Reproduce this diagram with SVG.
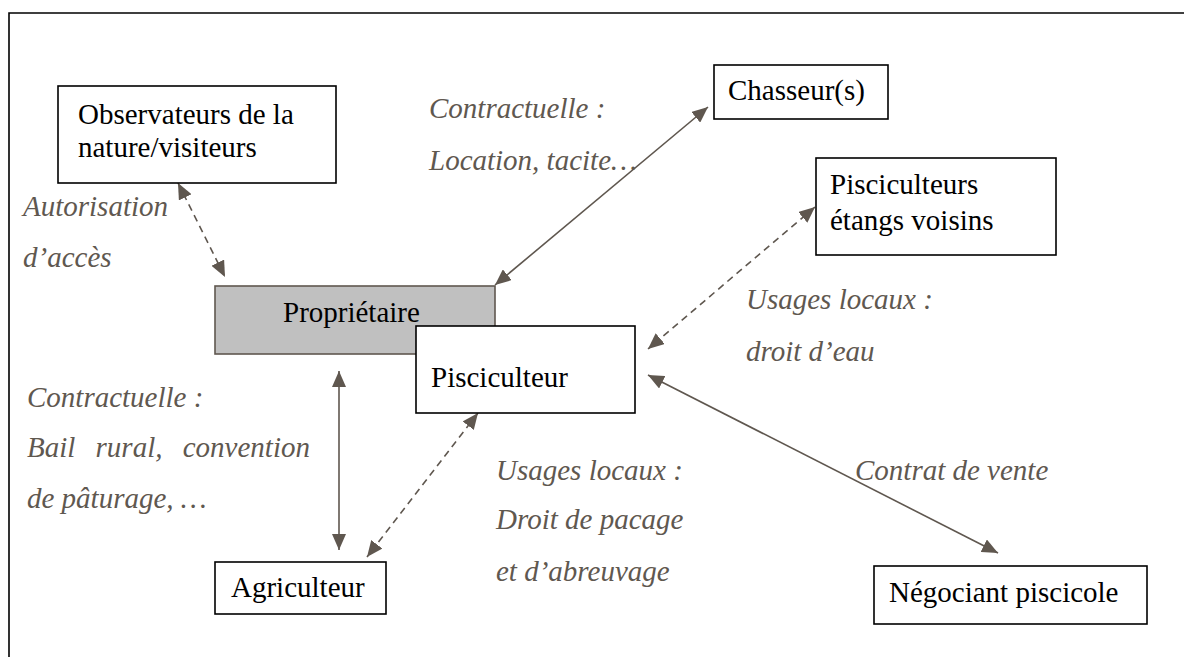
<svg xmlns="http://www.w3.org/2000/svg" width="1184" height="657" viewBox="0 0 1184 657">
<style>
.box{fill:#fff;stroke:#000;stroke-width:1.6}
.prop{fill:#c0c0c0;stroke:#5f574f;stroke-width:1.6}
.t{font-family:"Liberation Serif","Times New Roman",serif;font-size:29px;fill:#000}
.lbl{font-family:"Liberation Serif","Times New Roman",serif;font-size:29px;font-style:italic;fill:#5f5850}
.c{stroke:#5f574f;stroke-width:1.6;fill:none;marker-start:url(#ah);marker-end:url(#ah)}
.d{stroke-dasharray:7 5}
</style>
<defs>
<marker id="ah" markerUnits="userSpaceOnUse" markerWidth="16" markerHeight="14" refX="16" refY="7" orient="auto-start-reverse">
<path d="M0,0 L16,7 L0,14 z" fill="#5f574f"/>
</marker>
</defs>
<rect width="1184" height="657" fill="#fff"/>
<path d="M9,657 L9,13 L1184,13" fill="none" stroke="#000" stroke-width="1.6"/>

<g id="connectors">
<line class="c" x1="708" y1="107" x2="495" y2="285"/>
<line class="c" x1="339" y1="371" x2="339" y2="550"/>
<line class="c d" x1="478" y1="413" x2="367" y2="557"/>
<line class="c d" x1="815" y1="207" x2="648" y2="349"/>
<line class="c" x1="648" y1="375" x2="998" y2="553"/>
<line class="c d" x1="178" y1="183" x2="225" y2="277"/>
</g>

<g id="labels">
<text class="lbl" x="429" y="118">Contractuelle :</text>
<text class="lbl" x="429" y="170">Location, tacite…</text>
<text class="lbl" x="23" y="216">Autorisation</text>
<text class="lbl" x="23" y="267">d’accès</text>
<text class="lbl" x="746" y="309">Usages locaux :</text>
<text class="lbl" x="746" y="361">droit d’eau</text>
<text class="lbl" x="27" y="407">Contractuelle :</text>
<text class="lbl" x="27" y="457" word-spacing="13">Bail rural, convention</text>
<text class="lbl" x="27" y="508">de pâturage, …</text>
<text class="lbl" x="496" y="480">Usages locaux :</text>
<text class="lbl" x="496" y="529">Droit de pacage</text>
<text class="lbl" x="496" y="581">et d’abreuvage</text>
<text class="lbl" x="855" y="480">Contrat de vente</text>
</g>

<g id="observateurs">
<rect class="box" x="58" y="86" width="278" height="97"/>
<text class="t" x="78" y="124">Observateurs de la</text>
<text class="t" x="78" y="157">nature/visiteurs</text>
</g>
<g id="chasseurs">
<rect class="box" x="714" y="65" width="174" height="54"/>
<text class="t" x="728" y="100">Chasseur(s)</text>
</g>
<g id="pisciculteurs-voisins">
<rect class="box" x="816" y="158" width="240" height="97"/>
<text class="t" x="830" y="194">Pisciculteurs</text>
<text class="t" x="830" y="230">étangs voisins</text>
</g>
<g id="proprietaire">
<rect class="prop" x="215" y="286" width="280" height="68"/>
<text class="t" x="283" y="322">Propriétaire</text>
</g>
<g id="pisciculteur">
<rect class="box" x="416" y="326" width="219" height="87"/>
<text class="t" x="431" y="387">Pisciculteur</text>
</g>
<g id="agriculteur">
<rect class="box" x="215" y="562" width="171" height="52"/>
<text class="t" x="231" y="597">Agriculteur</text>
</g>
<g id="negociant">
<rect class="box" x="874" y="566" width="273" height="58"/>
<text class="t" x="889" y="602">Négociant piscicole</text>
</g>
</svg>
